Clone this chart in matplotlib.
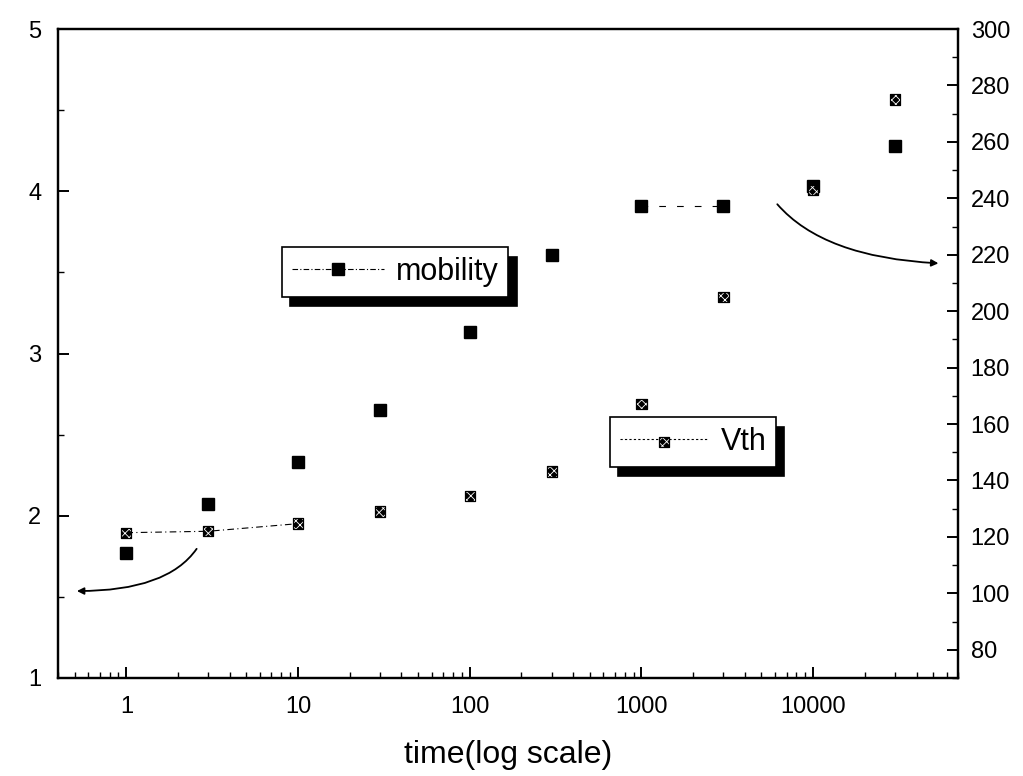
import matplotlib
matplotlib.use("Agg")
import matplotlib.pyplot as plt
from matplotlib.lines import Line2D
from matplotlib.ticker import LogLocator, MultipleLocator, NullFormatter

plt.rcParams["font.family"] = ["Liberation Sans", "DejaVu Sans"]
plt.rcParams["hatch.linewidth"] = 0.6

# data
time = [1, 3, 10, 30, 100, 300, 1000, 3000, 10000, 30000]
mobility = [1.77, 2.07, 2.33, 2.65, 3.13, 3.61, 3.91, 3.91, 4.03, 4.28]
vth = [121.5, 122, 124.7, 129, 134.6, 143.2, 167, 205, 243, 275]
x_ticks = [1, 10, 100, 1000, 10000]
x_tick_labels = ["1", "10", "100", "1000", "10000"]

fig = plt.figure(figsize=(10.23, 7.76), dpi=100)
ax = fig.add_axes([0.0567, 0.1263, 0.88, 0.8363])
ax2 = ax.twinx()

# mobility on the left axis
ax.plot(time, mobility, ls="none", marker="s", ms=8.5, color="black", zorder=3)
ax.plot(time[6:8], mobility[6:8], ls=(0, (6, 10)), lw=0.8, color="black")

# Vth on the right axis (dark checkered squares)
sc_fill = ax2.scatter(time, vth, marker="s", s=55, facecolor="black",
                      edgecolor="white", hatch="xxxx", linewidths=0, zorder=3)
sc_edge = ax2.scatter(time, vth, marker="s", s=55, facecolor="none",
                      edgecolor="black", linewidths=0.9, zorder=4)
ax2.plot(time[:3], vth[:3], ls=(0, (6, 3, 1, 3)), lw=0.8, color="black")

ax.set_xscale("log")
ax.set_xlim(0.4, 70000)
ax.set_ylim(1, 5)
ax2.set_ylim(70, 300)

ax.set_xticks(x_ticks)
ax.set_xticklabels(x_tick_labels)
ax.xaxis.set_minor_locator(LogLocator(base=10, subs=range(2, 10), numticks=20))
ax.xaxis.set_minor_formatter(NullFormatter())
ax.yaxis.set_major_locator(MultipleLocator(1))
ax.yaxis.set_minor_locator(MultipleLocator(0.5))
ax2.yaxis.set_major_locator(MultipleLocator(20))
ax2.yaxis.set_minor_locator(MultipleLocator(10))
ax2.set_yticks(range(80, 301, 20))

for a in (ax, ax2):
    for s in a.spines.values():
        s.set_linewidth(1.6)
ax.tick_params(which="major", direction="in", length=8, width=1.4,
               labelsize=17, top=False, right=False, pad=13)
ax.tick_params(which="minor", direction="in", length=4, width=1.0,
               top=False, right=False)
ax.tick_params(axis="y", pad=12)
ax2.tick_params(which="major", direction="in", length=8, width=1.4,
                labelsize=17, pad=9)
ax2.tick_params(which="minor", direction="in", length=4, width=1.0)

ax.set_xlabel("time(log scale)", fontsize=23, labelpad=16)

# legends in two separate boxes with hard black shadows
shadow = {"ox": 6, "oy": -7, "color": "black", "alpha": 1}
h_mob = Line2D([], [], ls=(0, (5, 2, 1, 2)), lw=0.8, color="black",
               marker="s", ms=8.5)
leg1 = ax2.legend([h_mob], ["mobility"], loc="upper left",
                  bbox_to_anchor=(0.249, 0.664), borderaxespad=0,
                  fontsize=22, handlelength=3.0, handletextpad=0.4,
                  borderpad=0.32, fancybox=False, framealpha=1,
                  edgecolor="black", shadow=shadow)
leg1.get_frame().set_linewidth(1.2)
ax2.add_artist(leg1)

h_line = Line2D([], [], ls=(0, (2, 2)), lw=0.8, color="black")
leg2 = ax2.legend([(h_line, sc_fill, sc_edge)], ["Vth"], loc="upper left",
                  bbox_to_anchor=(0.613, 0.402), borderaxespad=0,
                  fontsize=22, handlelength=2.9, handletextpad=0.4,
                  borderpad=0.32, fancybox=False, framealpha=1,
                  edgecolor="black", shadow=shadow)
leg2.get_frame().set_linewidth(1.2)

# curved arrows pointing to the matching axis
ax.annotate("", xy=(0.021, 0.134), xytext=(0.154, 0.199),
            xycoords="axes fraction", textcoords="axes fraction",
            arrowprops=dict(arrowstyle="-|>", lw=1.3, color="black",
                            mutation_scale=10, shrinkA=0, shrinkB=0,
                            connectionstyle="angle3,angleA=55,angleB=0"))
ax.annotate("", xy=(0.978, 0.639), xytext=(0.799, 0.730),
            xycoords="axes fraction", textcoords="axes fraction",
            arrowprops=dict(arrowstyle="-|>", lw=1.3, color="black",
                            mutation_scale=10, shrinkA=0, shrinkB=0,
                            connectionstyle="angle3,angleA=-49,angleB=-3"))

fig.savefig("out.png", dpi=100)
